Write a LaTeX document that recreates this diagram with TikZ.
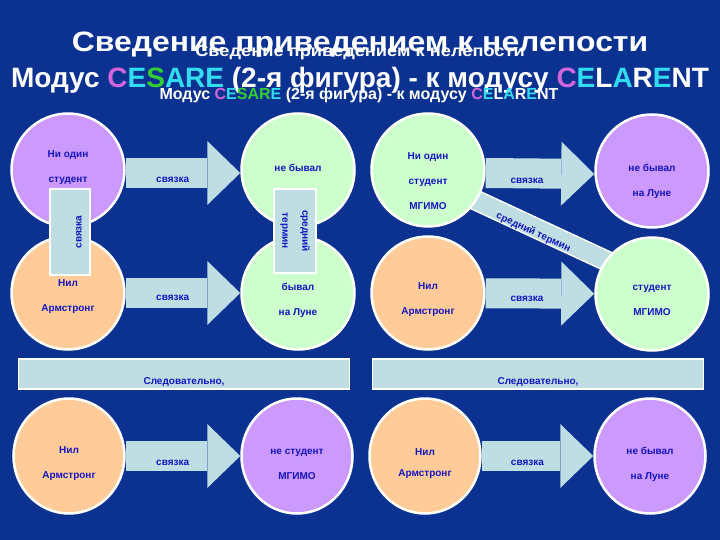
\documentclass[tikz,border=0pt]{standalone}
\usepackage{fontspec}
\setmainfont{Liberation Sans}
\usetikzlibrary{positioning,arrows.meta,shapes.geometric}
\definecolor{slidebg}{RGB}{12,50,145}
\definecolor{lilac}{RGB}{204,153,255}
\definecolor{peach}{RGB}{255,204,153}
\definecolor{mint}{RGB}{204,255,204}
\definecolor{paleblue}{RGB}{190,222,228}
\definecolor{inkblue}{RGB}{20,20,190}
\definecolor{hlviolet}{RGB}{210,100,220}
\definecolor{hlcyan}{RGB}{50,220,240}
\definecolor{hlgreen}{RGB}{50,205,50}
\tikzset{
  term/.style={circle, draw=white, line width=2.5pt, minimum size=113pt, inner sep=0pt},
  termL/.style={term, fill=lilac},
  termP/.style={term, fill=peach},
  termM/.style={term, fill=mint},
  concl/.style={ellipse, draw=white, line width=2.5pt, minimum width=111pt, minimum height=115pt, inner sep=0pt},
  termtxt/.style={text=inkblue, font=\fontsize{10}{25}\selectfont\bfseries, align=center},
  link/.style={line width=30pt, paleblue, -{Triangle[length=33pt,width=64pt,line width=0pt]}},
  linklbl/.style={text=inkblue, font=\fontsize{10}{12}\selectfont\bfseries},
  tagbox/.style={draw=white, line width=1.5pt, fill=paleblue, text=inkblue, align=center, font=\fontsize{10}{20}\selectfont\bfseries, inner sep=0pt},
  ergo/.style={tagbox, minimum width=331pt, minimum height=30pt, text height=23pt, text depth=2pt},
  band/.style={draw=white, line width=1.5pt, double=paleblue, double distance=18pt},
  bigtitle/.style={text=white, font=\fontsize{28}{30}\selectfont\bfseries, inner sep=0pt},
  subtitle/.style={text=white, font=\fontsize{16}{18}\selectfont\bfseries, inner sep=0pt}
}

\begin{document}
\begin{tikzpicture}[x=1pt, y=-1pt]
  \fill[slidebg] (0,0) rectangle (720,540);

  % titles (two layers)
  \node[bigtitle, xscale=1.14] (title1) at (360,45) {Сведение приведением к нелепости};
  \node[bigtitle] (title2) at (360,80) {Модус \textcolor{hlviolet}{C}\textcolor{hlcyan}{E}\textcolor{hlgreen}{S}\textcolor{hlcyan}{ARE} (2-я фигура) - к модусу \textcolor{hlviolet}{C}\textcolor{hlcyan}{E}L\textcolor{hlcyan}{A}R\textcolor{hlcyan}{E}NT};
  \node[subtitle, xscale=1.14] (sub1) at (360,53) {Сведение приведением к нелепости};
  \node[subtitle] (sub2) at (359,95) {Модус \textcolor{hlviolet}{C}\textcolor{hlcyan}{E}\textcolor{hlgreen}{SAR}\textcolor{hlcyan}{E} (2-я фигура) - к модусу \textcolor{hlviolet}{C}\textcolor{hlcyan}{E}L\textcolor{hlcyan}{A}R\textcolor{hlcyan}{E}NT};

  % middle term band (right group)
  \coordinate (bandA) at (428,178);
  \coordinate (bandB) at (652,282);
  \draw[band] (bandA) -- (bandB) node[linklbl, pos=0.48, sloped, yshift=-5pt] (bandlbl) {средний термин};

  % left group: CESARE
  \node[termL] (nostud) at (68,170) {};
  \node[termM] (nebyv) at (298,170) {};
  \node[termP] (neil) at (68,293) {};
  \node[termM] (byv) at (298,293) {};
  \node[termtxt] (nostudt) at (68,168) {Ни один\\студент};
  \node[termtxt] (nebyvt) at (298,181) {не бывал\\на Луне};
  \node[termtxt] (neilt) at (68,297) {Нил\\Армстронг};
  \node[termtxt] (byvt) at (298,300) {бывал\\на Луне};
  \draw[link] ([yshift=-3pt]nostud.east) -- ([yshift=-3pt]nebyv.west) node[linklbl, pos=0.41, yshift=-7pt] (cop1) {связка};
  \draw[link] (neil) -- (byv) node[linklbl, pos=0.41, yshift=-5pt] (cop2) {связка};
  \node[tagbox, rotate=90, minimum width=86pt, minimum height=40pt, text height=25pt, text depth=2pt] (copL) at (70,232) {связка};
  \node[tagbox, rotate=-90, minimum width=84pt, minimum height=42pt] (midL) at (295,231) {средний\\термин};

  % right group: CELARENT
  \node[termM] (nostudM) at (428,170) {};
  \node[termL] (nebyvL) at (652,171) {};
  \node[termP] (neilR) at (428,293) {};
  \node[termM] (studM) at (652,294) {};
  \node[termtxt] (nostudMt) at (428,181) {Ни один\\студент\\МГИМО};
  \node[termtxt] (nebyvLt) at (652,181) {не бывал\\на Луне};
  \node[termtxt] (neilRt) at (428,300) {Нил\\Армстронг};
  \node[termtxt] (studMt) at (652,300) {студент\\МГИМО};
  \draw[link] ([yshift=-3pt]nostudM.east) -- ([yshift=-3pt]nebyvL.west) node[linklbl, pos=0.38, yshift=-7pt] (cop3) {связка};
  \draw[link] (neilR) -- (studM) node[linklbl, pos=0.38, yshift=-5pt] (cop4) {связка};

  % conclusions
  \node[ergo] (ergoL) at (184,374) {Следовательно,};
  \node[ergo] (ergoR) at (538,374) {Следовательно,};

  \node[concl, fill=peach] (neilC) at (69,456) {};
  \node[concl, fill=lilac] (nestudC) at (297,456) {};
  \node[concl, fill=peach] (neilD) at (425,456) {};
  \node[concl, fill=lilac] (nebyvD) at (650,456) {};
  \node[termtxt] (neilCt) at (69,464) {Нил\\Армстронг};
  \node[termtxt] (nestudCt) at (297,464) {не студент\\МГИМО};
  \node[termtxt, font=\fontsize{10}{21}\selectfont\bfseries] (neilDt) at (425,464) {Нил\\Армстронг};
  \node[termtxt] (nebyvDt) at (650,464) {не бывал\\на Луне};
  \draw[link] (neilC) -- (nestudC) node[linklbl, pos=0.41, yshift=-7pt] (cop5) {связка};
  \draw[link] (neilD) -- (nebyvD) node[linklbl, pos=0.41, yshift=-7pt] (cop6) {связка};
\end{tikzpicture}
\end{document}
